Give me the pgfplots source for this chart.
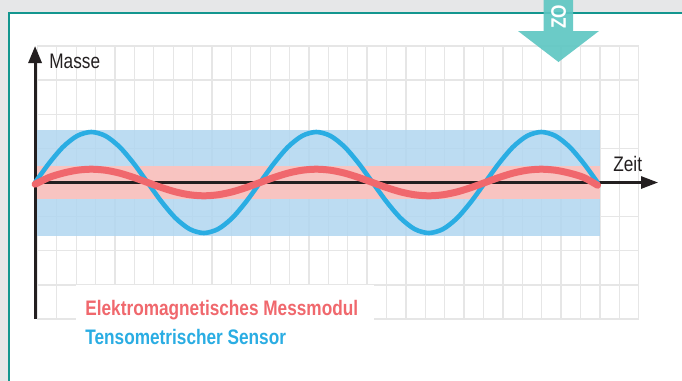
\documentclass[border=0pt]{standalone}
\usepackage{pgfplots}
\pgfplotsset{compat=1.18}
\usepackage{pgfplotstable}
\usepackage{fontspec}
\setmainfont{Liberation Sans}[FakeStretch=0.82]
\usetikzlibrary{arrows.meta}
\definecolor{bgray}{HTML}{E6E7E8}
\definecolor{tealframe}{HTML}{13968F}
\definecolor{tealarrow}{HTML}{5CC6C2}
\definecolor{gridc}{HTML}{E6E6E6}
\definecolor{blueline}{HTML}{2AADE3}
\definecolor{blueband}{HTML}{B1D6F0}
\definecolor{redline}{HTML}{F0686D}
\definecolor{redband}{HTML}{FFC2BC}
\definecolor{axisk}{HTML}{231F20}
\pgfplotstableread{
x blue red
-0.12 0 -0.05
0.605 0.566 0.149
1.33 1.047 0.276
2.055 1.367 0.360
2.78 1.48 0.39
3.505 1.367 0.360
4.23 1.047 0.276
4.955 0.566 0.149
5.68 0 0
6.405 -0.566 -0.149
7.13 -1.047 -0.276
7.855 -1.367 -0.360
8.58 -1.48 -0.39
9.305 -1.367 -0.360
10.03 -1.047 -0.276
10.755 -0.566 -0.149
11.48 0 0
12.205 0.566 0.149
12.93 1.047 0.276
13.655 1.367 0.360
14.38 1.48 0.39
15.105 1.367 0.360
15.83 1.047 0.276
16.555 0.566 0.149
17.28 0 0
18.005 -0.566 -0.149
18.73 -1.047 -0.276
19.455 -1.367 -0.360
20.18 -1.48 -0.39
20.905 -1.367 -0.360
21.63 -1.047 -0.276
22.355 -0.566 -0.149
23.08 0 0
23.805 0.566 0.149
24.53 1.047 0.276
25.255 1.367 0.360
25.98 1.48 0.39
26.705 1.367 0.360
27.43 1.047 0.276
28.155 0.566 0.149
28.88 0 -0.08
}\wavedata
\begin{document}
\begin{tikzpicture}
\path[use as bounding box, clip] (0,0) rectangle (341pt,-190.5pt);
\begin{scope}[x=0.5pt,y=-0.5pt]
\fill[bgray] (0,0) rectangle (682,381);
\fill[white] (9,13.5) rectangle (690,390);
\draw[tealframe, line width=0.9pt] (8.3,13.2) -- (690,13.2);
\draw[tealframe, line width=1pt] (9.3,13.2) -- (9.3,390);
\end{scope}
\begin{axis}[
  at={(18.7pt,-23pt)}, anchor=north west,
  scale only axis, width=300.65pt, height=136.5pt,
  xmin=0, xmax=31, ymin=-4, ymax=4,
  xtick={0,...,31}, ytick={-4,...,4},
  xticklabels={}, yticklabels={},
  major tick length=0pt,
  axis line style={draw=none},
  grid=major, grid style={gridc, line width=0.65pt},
  clip=false,
]
\addplot[draw=none, fill=blueband, fill opacity=0.85] coordinates {(-0.12,-1.57) (29.0,-1.57) (29.0,1.54) (-0.12,1.54)} -- cycle;
\addplot[draw=none, fill=redband, fill opacity=0.9] coordinates {(-0.12,-0.49) (29.0,-0.49) (29.0,0.49) (-0.12,0.49)} -- cycle;
\fill[white] (axis cs:2,-3) rectangle (axis cs:17.35,-4.05);
\draw[axisk, line width=1.35pt, -{Triangle[length=8.5pt,width=6pt]}] (axis cs:-0.12,0) -- (axis cs:32.0,0);
\draw[axisk, line width=1.5pt, -{Triangle[length=8.5pt,width=6.5pt]}] (axis cs:-0.12,-4) -- (axis cs:-0.12,4);
\addplot[blueline, line width=2.3pt, smooth, line cap=round] table[x=x, y=blue] {\wavedata};
\addplot[redline, line width=3.5pt, smooth, line cap=round] table[x=x, y=red] {\wavedata};
\end{axis}
\begin{scope}[x=0.5pt,y=-0.5pt]
\fill[tealarrow, opacity=0.9] (543.5,-5) rectangle (573,31) (518,31) -- (599,31) -- (558.5,62) -- cycle;
\node[rotate=90, anchor=base west, inner sep=0pt, text=white, font=\fontsize{10.5}{12}\selectfont\bfseries] at (566,29) {ZO};
\node[anchor=base west, inner sep=0pt, text=axisk, font=\fontsize{10.5}{12}\selectfont] at (49,68.5) {Masse};
\node[anchor=base west, inner sep=0pt, text=axisk, font=\fontsize{10.5}{12}\selectfont] at (613,171.7) {Zeit};
\node[anchor=base west, inner sep=0pt, text=redline, font=\fontsize{10.5}{12}\selectfont\bfseries] at (85,315) {Elektromagnetisches Messmodul};
\node[anchor=base west, inner sep=0pt, text=blueline, font=\fontsize{10.5}{12}\selectfont\bfseries] at (85,344) {Tensometrischer Sensor};
\end{scope}
\end{tikzpicture}
\end{document}
